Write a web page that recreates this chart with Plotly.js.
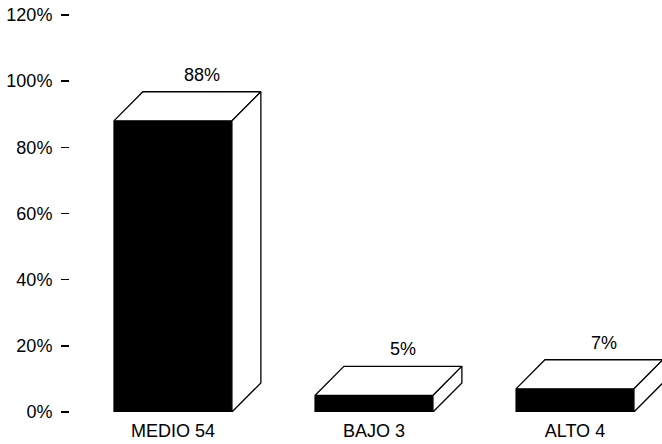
<!DOCTYPE html>
<html>
<head>
<meta charset="utf-8">
<script src="https://cdn.plot.ly/plotly-3.0.1.min.js"></script>
<style>
  html, body { margin: 0; padding: 0; background: #fff; }
  #chart { width: 662px; height: 444px; }
</style>
</head>
<body>
<div id="chart"></div>
<script>
// Nivel: categories, respondent counts and percentage shares
const categories = ['MEDIO', 'BAJO', 'ALTO'];
const counts = [54, 3, 4];
const percents = [88, 5, 7];

const yTickVals = [0, 20, 40, 60, 80, 100, 120];
const yTickText = ['0%', '20%', '40%', '60%', '80%', '100%', '120%'];

// pseudo-3D box geometry (data units)
const BAR_W = 0.587;   // front face width
const DEPTH_X = 0.144; // oblique depth along x
const DEPTH_Y = 8.8;   // oblique depth along y

const FONT = 'Liberation Sans, Arial, sans-serif';
const xs = categories.map((_, i) => i);

const traces = [];

// front faces
traces.push({
  type: 'bar',
  x: xs,
  y: percents,
  width: BAR_W,
  marker: { color: '#000', line: { color: '#000', width: 1 } },
  hoverinfo: 'skip',
  showlegend: false
});

// top and side faces
xs.forEach((x, i) => {
  const v = percents[i];
  const l = x - BAR_W / 2, r = x + BAR_W / 2;
  traces.push({
    type: 'scatter', mode: 'lines', fill: 'toself', fillcolor: '#fff',
    x: [l, r, r + DEPTH_X, l + DEPTH_X, l],
    y: [v, v, v + DEPTH_Y, v + DEPTH_Y, v],
    line: { color: '#000', width: 1.3 },
    hoverinfo: 'skip', showlegend: false
  });
  traces.push({
    type: 'scatter', mode: 'lines', fill: 'toself', fillcolor: '#fff',
    x: [r, r, r + DEPTH_X, r + DEPTH_X, r],
    y: [0, v, v + DEPTH_Y, DEPTH_Y, 0],
    line: { color: '#000', width: 1.3 },
    hoverinfo: 'skip', showlegend: false
  });
});

// value labels above each box
const annotations = xs.map((x, i) => ({
  x: x + DEPTH_X,
  y: percents[i] + DEPTH_Y,
  text: percents[i] + '%',
  showarrow: false,
  xanchor: 'center',
  yanchor: 'middle',
  yshift: 17,
  font: { family: FONT, size: 18, color: '#000' }
}));

const layout = {
  width: 662,
  height: 444,
  margin: { l: 70, r: 0, t: 15, b: 32 },
  paper_bgcolor: '#fff',
  plot_bgcolor: '#fff',
  showlegend: false,
  xaxis: {
    range: [-0.512, 2.433],
    tickvals: xs,
    ticktext: categories.map((c, i) => c + ' ' + counts[i]),
    ticks: '',
    ticklabelstandoff: 6,
    showgrid: false,
    zeroline: false,
    showline: false,
    tickfont: { family: FONT, size: 18, color: '#000' },
    fixedrange: true
  },
  yaxis: {
    range: [0, 120],
    tickvals: yTickVals,
    ticktext: yTickText,
    ticks: 'outside',
    ticklen: 8,
    tickwidth: 1.5,
    tickcolor: '#000',
    ticklabelstandoff: 5,
    showgrid: false,
    zeroline: false,
    showline: false,
    tickfont: { family: FONT, size: 18, color: '#000' },
    fixedrange: true
  },
  annotations: annotations
};

Plotly.newPlot('chart', traces, layout, { displayModeBar: false, staticPlot: true });
</script>
</body>
</html>
